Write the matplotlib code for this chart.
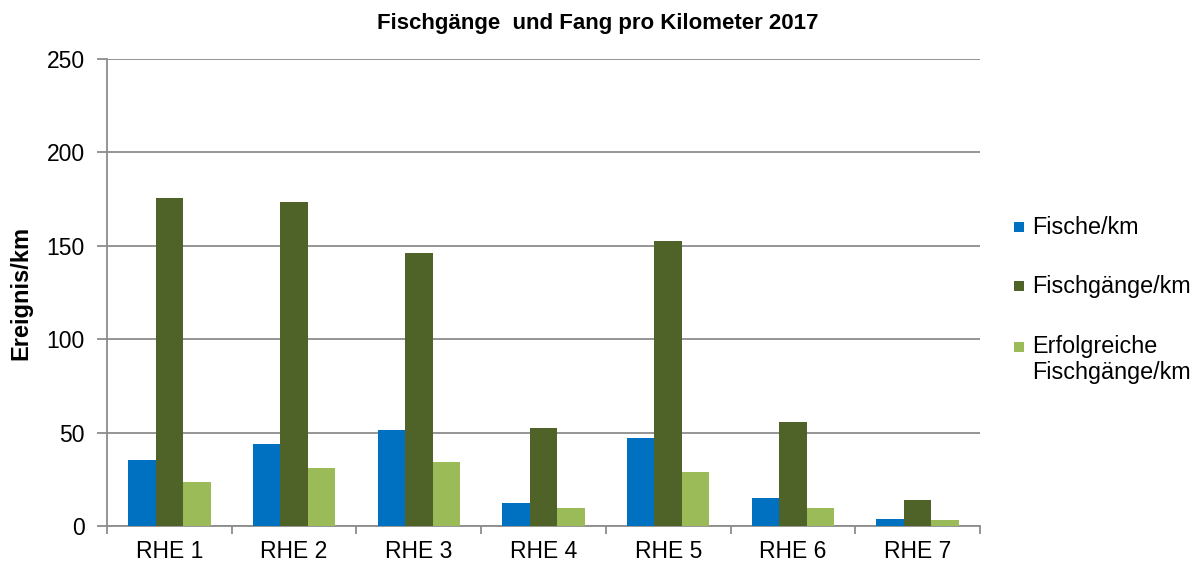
import matplotlib
matplotlib.use("Agg")
import matplotlib.pyplot as plt
from matplotlib.patches import Rectangle
import numpy as np

plt.rcParams['font.family'] = ['Liberation Sans', 'DejaVu Sans']

categories = ["RHE 1", "RHE 2", "RHE 3", "RHE 4", "RHE 5", "RHE 6", "RHE 7"]
fische = [35.4, 44.0, 51.5, 12.2, 47.2, 15.2, 3.6]
fischgaenge = [175.5, 173.5, 146.0, 52.3, 152.5, 55.5, 14.1]
erfolgreiche = [23.6, 31.1, 34.4, 9.8, 29.0, 9.8, 3.4]
series_names = ["Fische/km", "Fischgänge/km", "Erfolgreiche\nFischgänge/km"]
colors = ["#0070C0", "#4F6228", "#9BBB59"]

W, H = 1196, 566
fig = plt.figure(figsize=(W/100, H/100), dpi=100)
ax = fig.add_axes([107/W, 1-526/H, (980-107)/W, (526-59)/H])

x = np.arange(len(categories))
w = 0.22
for i, (vals, c) in enumerate(zip([fische, fischgaenge, erfolgreiche], colors)):
    ax.bar(x + (i-1)*w, vals, width=w, color=c, zorder=3, linewidth=0)

ax.set_xlim(-0.5, len(categories)-0.5)
ax.set_ylim(0, 250)
ax.set_yticks([0, 50, 100, 150, 200, 250])
ax.yaxis.grid(True, color="#8C8C8C", linewidth=1.3, zorder=0)
ax.set_axisbelow(True)
for s in ["top", "right"]:
    ax.spines[s].set_visible(False)
for s in ["left", "bottom"]:
    ax.spines[s].set_color("#8C8C8C")
    ax.spines[s].set_linewidth(1.3)

ax.set_xticks(np.arange(-0.5, len(categories), 1.0), minor=False)
ax.set_xticklabels([])
ax.set_xticks(x, minor=True)
ax.set_xticklabels(categories, minor=True, fontsize=16.5)
ax.tick_params(axis='x', which='minor', length=0, pad=10)
ax.tick_params(axis='x', which='major', length=6, width=1.3, color="#8C8C8C")
ax.tick_params(axis='y', length=7, width=1.3, color="#8C8C8C", labelsize=16.5, pad=9)

ax.set_ylabel("Ereignis/km", fontsize=17, fontweight='bold', labelpad=10)
fig.text(0.5, 1-23/H, "Fischgänge  und Fang pro Kilometer 2017", ha='center', va='center',
         fontsize=16, fontweight='bold')

# legend drawn manually (marker aligned with first text line, as in the reference)
leg_y = [227, 286, 347]
line_step = 26
for name, c, yc in zip(series_names, colors, leg_y):
    fig.add_artist(Rectangle((1014/W, 1-(yc+5)/H), 10/W, 10/H,
                             transform=fig.transFigure, facecolor=c, edgecolor='none'))
    for k, line in enumerate(name.split("\n")):
        fig.text(1032/W, 1-(yc + k*line_step)/H, line, ha='left', va='center',
                 fontsize=16.8)

fig.savefig("out.png", dpi=100)
